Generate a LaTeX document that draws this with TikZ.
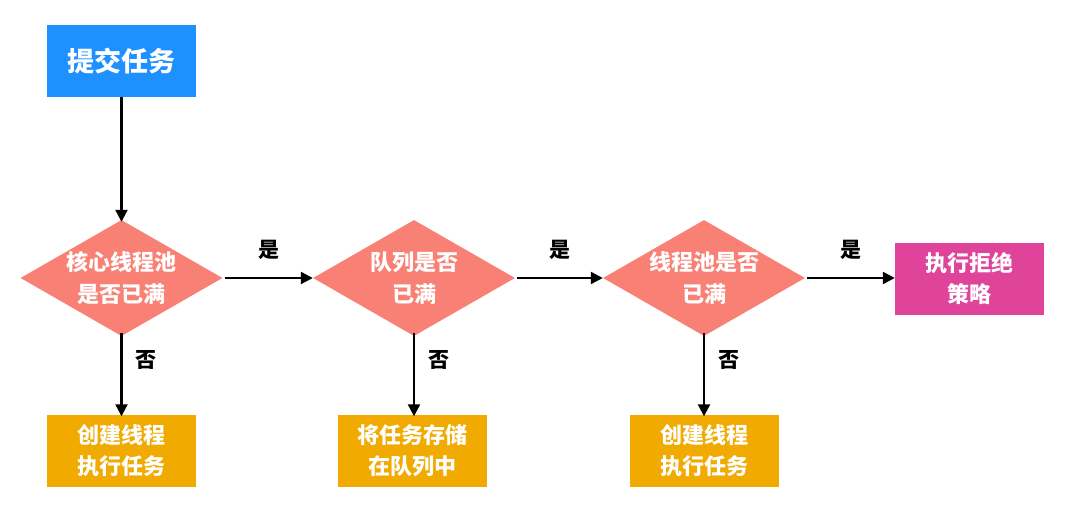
\documentclass[tikz,border=0pt]{standalone}
\usepackage{fontspec}
\setmainfont{Noto Sans CJK SC}
\usetikzlibrary{shapes.geometric,arrows.meta}
\definecolor{cblue}{RGB}{30,144,255}
\definecolor{csalmon}{RGB}{248,128,116}
\definecolor{corange}{RGB}{240,170,0}
\definecolor{cmagenta}{RGB}{224,68,154}
\begin{document}
\begin{tikzpicture}[x=1pt,y=-1pt,
  box/.style={rectangle,minimum width=149pt,minimum height=72pt,inner sep=0pt,text=white,align=center},
  dia/.style={diamond,fill=csalmon,minimum width=202pt,minimum height=116pt,inner sep=0pt},
  diatext/.style={text=white,align=center,font=\fontsize{22}{32}\selectfont\bfseries},
  boxtext/.style={font=\fontsize{22}{31}\selectfont\bfseries},
  arr/.style={line width=2.2pt,-{Triangle[length=12pt,width=12pt]}},
  lab/.style={font=\fontsize{21}{24}\selectfont\bfseries,text=black}]
\useasboundingbox (0,0) rectangle (1080,505);
\node[box,fill=cblue,font=\fontsize{27}{32}\selectfont\bfseries] (start) at (121.5,61) {提交任务};
\node[dia] (d1) at (121.5,278) {};
\node[dia] (d2) at (414,278) {};
\node[dia] (d3) at (704,278) {};
\node[diatext] (t1) at (d1.center) {核心线程池\\是否已满};
\node[diatext] (t2) at (d2.center) {队列是否\\已满};
\node[diatext] (t3) at (d3.center) {线程池是否\\已满};
\node[box,fill=cmagenta,boxtext] (rej) at (969.5,279) {执行拒绝\\策略};
\node[box,fill=corange,boxtext] (b1) at (121.5,450.5) {创建线程\\执行任务};
\node[box,fill=corange,boxtext] (b2) at (412.5,450.5) {将任务存储\\在队列中};
\node[box,fill=corange,boxtext] (b3) at (704.5,450.5) {创建线程\\执行任务};
\draw[arr] (start.south) -- ([yshift=-2pt]d1.north);
\draw[arr] ([xshift=2pt]d1.east) -- node[lab,above=14pt] {是} (d2.west);
\draw[arr] ([xshift=2pt]d2.east) -- node[lab,above=14pt] {是} (d3.west);
\draw[arr] ([xshift=2pt]d3.east) -- node[lab,above=14pt] {是} (d3.east -| rej.west);
\draw[arr] ([yshift=3pt]d1.south) -- node[lab,right=10pt,pos=0.32] {否} ([yshift=-2pt]d1.south |- b1.north);
\draw[arr] ([yshift=3pt]d2.south) -- node[lab,right=10pt,pos=0.32] {否} ([yshift=-2pt]d2.south |- b2.north);
\draw[arr] ([yshift=3pt]d3.south) -- node[lab,right=10pt,pos=0.32] {否} ([yshift=-2pt]d3.south |- b3.north);
\end{tikzpicture}
\end{document}
